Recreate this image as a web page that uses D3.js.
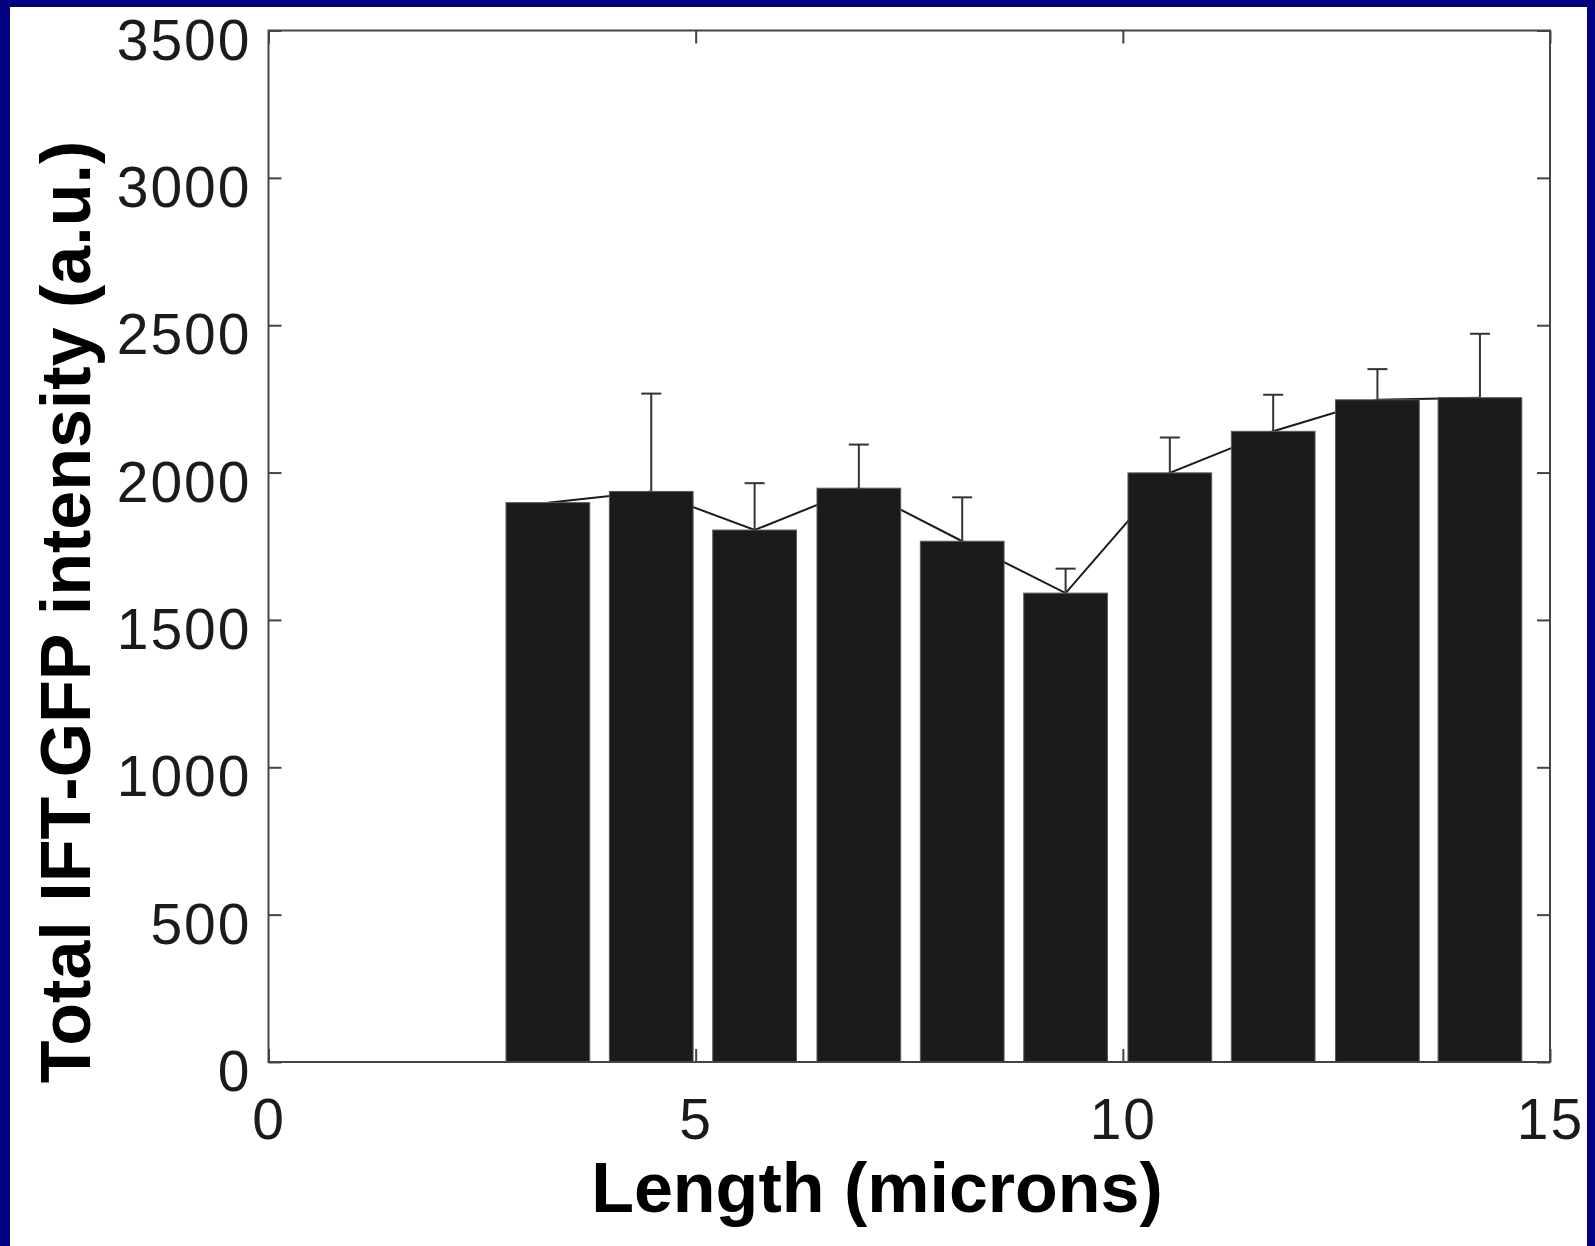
<!DOCTYPE html>
<html>
<head>
<meta charset="utf-8">
<script src="https://cdn.jsdelivr.net/npm/d3@7"></script>
<style>
  body { margin: 0; background: #fff; }
  svg { display: block; }
</style>
</head>
<body>
<svg id="chart"></svg>
<script>
// bin centres (microns), mean intensity and upper error (SD)
const lengths   = [3.27, 4.48, 5.69, 6.91, 8.12, 9.33, 10.55, 11.76, 12.98, 14.18];
const intensity = [1898, 1936, 1805, 1947, 1767, 1591, 1999, 2140, 2247, 2254];
const errors    = [0, 332, 159, 148, 149, 83, 120, 124, 104, 217];
const xTicks = [0, 5, 10, 15];
const yTicks = [0, 500, 1000, 1500, 2000, 2500, 3000, 3500];

const W = 1595, H = 1246;
const margin = { left: 268.5, right: W - 1550, top: 30.5, bottom: H - 1062 };
const barWidth = 0.98; // in microns
const tick = 13;

const svg = d3.select("#chart").attr("width", W).attr("height", H);

const x = d3.scaleLinear().domain([0, 15]).range([margin.left, W - margin.right]);
const y = d3.scaleLinear().domain([0, 3500]).range([H - margin.bottom, margin.top]);

const data = lengths.map((l, i) => ({ l, v: intensity[i], e: errors[i] }));

// connecting line, behind bars
svg.append("path")
    .datum(data)
    .attr("fill", "none")
    .attr("stroke", "#1b1b1b")
    .attr("stroke-width", 2)
    .attr("d", d3.line().x(d => x(d.l)).y(d => y(d.v)));

// error bars (upper only)
const eb = svg.append("g").attr("stroke", "#333").attr("stroke-width", 2);
eb.selectAll("line.stem")
    .data(data.filter(d => d.e > 0))
    .join("line")
    .attr("class", "stem")
    .attr("x1", d => x(d.l)).attr("x2", d => x(d.l))
    .attr("y1", d => y(d.v)).attr("y2", d => y(d.v + d.e));
eb.selectAll("line.cap")
    .data(data.filter(d => d.e > 0))
    .join("line")
    .attr("class", "cap")
    .attr("x1", d => x(d.l) - 10).attr("x2", d => x(d.l) + 10)
    .attr("y1", d => y(d.v + d.e)).attr("y2", d => y(d.v + d.e));

// bars
svg.append("g")
    .selectAll("rect")
    .data(data)
    .join("rect")
    .attr("x", d => x(d.l - barWidth / 2))
    .attr("width", d => x(d.l + barWidth / 2) - x(d.l - barWidth / 2))
    .attr("y", d => y(d.v))
    .attr("height", d => y(0) - y(d.v))
    .attr("fill", "#1b1c19")
    .attr("stroke", "#5a5a58")
    .attr("stroke-width", 1);

// axes, ticks pointing inwards
const font = "'Liberation Sans', Arial, Helvetica, sans-serif";
function styleAxis(g) {
    g.select(".domain").remove();
    g.selectAll(".tick line").attr("stroke", "#444").attr("stroke-width", 2);
    g.selectAll(".tick text")
        .attr("fill", "#1b1c19")
        .style("font-family", font)
        .style("font-size", "57px")
        .style("letter-spacing", "2px");
}

svg.append("g")
    .attr("transform", `translate(${margin.left},0)`)
    .call(d3.axisLeft(y).tickValues(yTicks).tickSize(-tick).tickPadding(17).tickFormat(d3.format("d")))
    .call(styleAxis)
    .call(g => g.selectAll(".tick text").attr("dy", "0.5em"));

svg.append("g")
    .attr("transform", `translate(${W - margin.right},0)`)
    .call(d3.axisRight(y).tickValues(yTicks).tickSize(-tick).tickFormat(""))
    .call(styleAxis);

svg.append("g")
    .attr("transform", `translate(0,${H - margin.bottom})`)
    .call(d3.axisBottom(x).tickValues(xTicks).tickSize(-tick).tickPadding(37))
    .call(styleAxis);

svg.append("g")
    .attr("transform", `translate(0,${margin.top})`)
    .call(d3.axisTop(x).tickValues(xTicks).tickSize(-tick).tickFormat(""))
    .call(styleAxis);

// plot box
svg.append("rect")
    .attr("x", margin.left).attr("y", margin.top)
    .attr("width", W - margin.left - margin.right)
    .attr("height", H - margin.top - margin.bottom)
    .attr("fill", "none")
    .attr("stroke", "#444")
    .attr("stroke-width", 2);

// axis titles
svg.append("text")
    .attr("x", 877).attr("y", 1212)
    .attr("text-anchor", "middle")
    .style("font-family", font)
    .style("font-weight", "bold")
    .style("font-size", "70px")
    .text("Length (microns)");

svg.append("text")
    .attr("transform", "translate(90,612) rotate(-90)")
    .attr("text-anchor", "middle")
    .style("font-family", font)
    .style("font-weight", "bold")
    .style("font-size", "70px")
    .text("Total IFT-GFP intensity (a.u.)");

// blue slide frame (left, top, right)
const frame = svg.append("g").attr("fill", "#000080");
frame.append("rect").attr("x", 0).attr("y", 0).attr("width", 10).attr("height", H);
frame.append("rect").attr("x", 0).attr("y", 0).attr("width", W).attr("height", 7);
frame.append("rect").attr("x", W - 8).attr("y", 0).attr("width", 8).attr("height", H);
</script>
</body>
</html>
